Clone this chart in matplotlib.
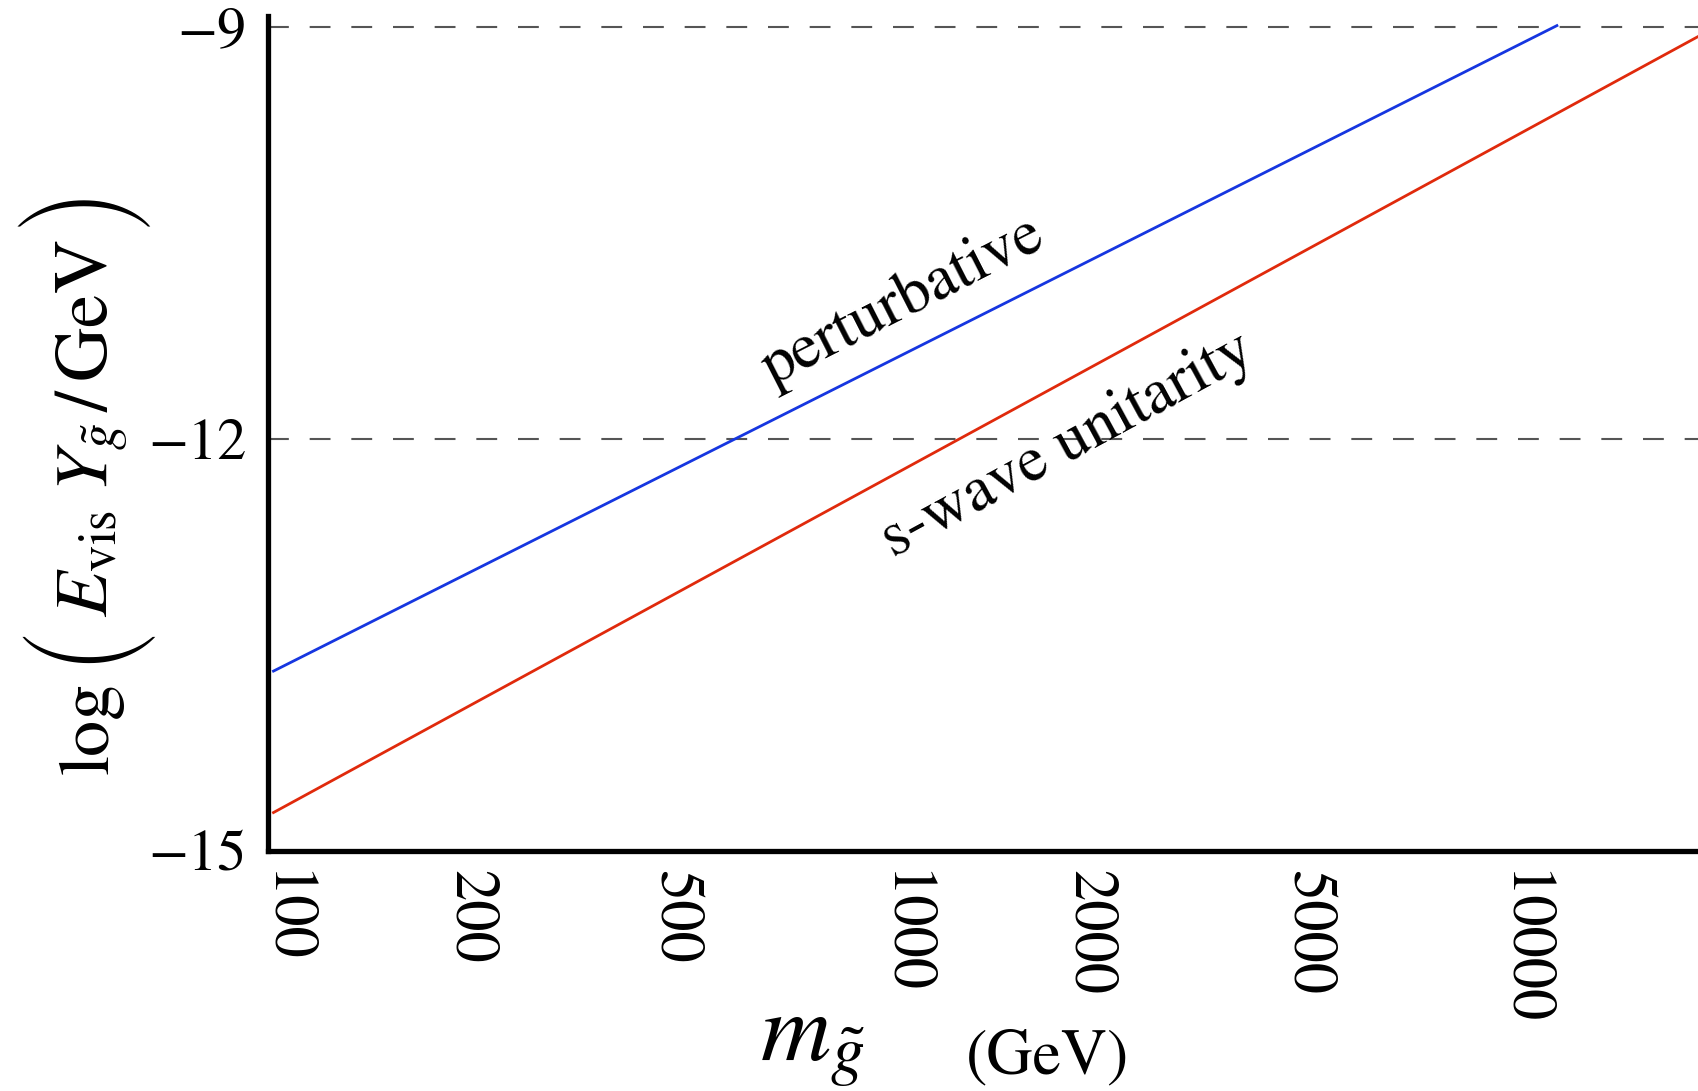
import os
import matplotlib
matplotlib.use("Agg")
import matplotlib.pyplot as plt
import matplotlib.transforms as mtransforms
from matplotlib.font_manager import FontProperties

# ---- data ----
blue_mass = [100, 11860]
blue_logY = [-13.69, -8.99]
red_mass = [100, 20050]
red_logY = [-14.72, -9.07]

x_tick_pos = [100, 200, 427, 1000, 2000, 4490, 10000]
x_tick_labels = ["100", "200", "500", "1000", "2000", "5000", "10000"]
y_ticks = [-9, -12, -15]
y_tick_labels = ["\u22129", "\u221212", "\u221215"]
ref_levels = [-9, -12]

plt.rcParams["font.family"] = ["STIXGeneral", "DejaVu Serif"]
plt.rcParams["mathtext.fontset"] = "stix"
plt.rcParams["lines.scale_dashes"] = False

W, H = 1698, 1091
fig = plt.figure(figsize=(W / 100, H / 100), dpi=100)
ax = fig.add_axes([267.5 / W, 1 - 851 / H, 1 - 267.5 / W, (851 - 16) / H])

for lvl in ref_levels:
    ax.axhline(lvl, color="#555555", lw=1.5, dashes=(15, 15), zorder=1)

ax.plot(blue_mass, blue_logY, color="#1636e0", lw=2.0, zorder=3)
ax.plot(red_mass, red_logY, color="#e02a0c", lw=2.0, zorder=3)

ax.set_xscale("log")
ax.set_xlim(97.8, 20050)
ax.set_ylim(-15, -8.92)

ax.set_xticks(x_tick_pos)
ax.set_xticklabels(x_tick_labels, rotation=270, ha="center", va="top")
ax.xaxis.set_minor_locator(plt.NullLocator())
ax.set_yticks(y_ticks)
ax.set_yticklabels(y_tick_labels)
ax.tick_params(axis="x", length=0, pad=14, labelsize=45)
ax.tick_params(axis="y", length=0, pad=15, labelsize=42)
offset = mtransforms.ScaledTranslation(10 / 100, 0, fig.dpi_scale_trans)
for lab in ax.get_xticklabels():
    lab.set_transform(lab.get_transform() + offset)

for s in ["top", "right"]:
    ax.spines[s].set_visible(False)
for s in ["left", "bottom"]:
    ax.spines[s].set_linewidth(3.8)

ax.text(1040, -11.0, "perturbative", rotation=27, fontsize=46,
        ha="center", va="center", rotation_mode="anchor")
ax.text(1920, -12.05, "s-wave unitarity", rotation=28.5, fontsize=46,
        ha="center", va="center", rotation_mode="anchor")

# ---- y label, built from pieces with large delimiters ----
big_path = os.path.join(matplotlib.get_data_path(), "fonts", "ttf", "STIXSizThreeSymReg.ttf")
if os.path.exists(big_path):
    paren_fp = FontProperties(fname=big_path, size=39)
else:
    paren_fp = FontProperties(family="STIXGeneral", size=90)

xb = 108 / W
fig.text(xb, 1 - 728 / H, "log", rotation=90, fontsize=52,
         ha="center", va="baseline", rotation_mode="anchor")
fig.text(xb, 1 - 428 / H, r"$E_{\rm vis}\;Y_{\tilde{g}}\,/\,{\rm GeV}$", rotation=90,
         fontsize=54, ha="center", va="baseline", rotation_mode="anchor")
fig.text(80 / W, 1 - 643 / H, "(", rotation=90, fontproperties=paren_fp,
         ha="center", va="center", rotation_mode="anchor")
fig.text(80 / W, 1 - 206 / H, ")", rotation=90, fontproperties=paren_fp,
         ha="center", va="center", rotation_mode="anchor")

# ---- x label ----
fig.text(813 / W, 1 - 1060 / H, r"$m_{\tilde{g}}$", fontsize=70,
         ha="center", va="baseline")
fig.text(1048 / W, 1 - 1073 / H, "(GeV)", fontsize=46,
         ha="center", va="baseline")

fig.savefig("out.png", dpi=100)
